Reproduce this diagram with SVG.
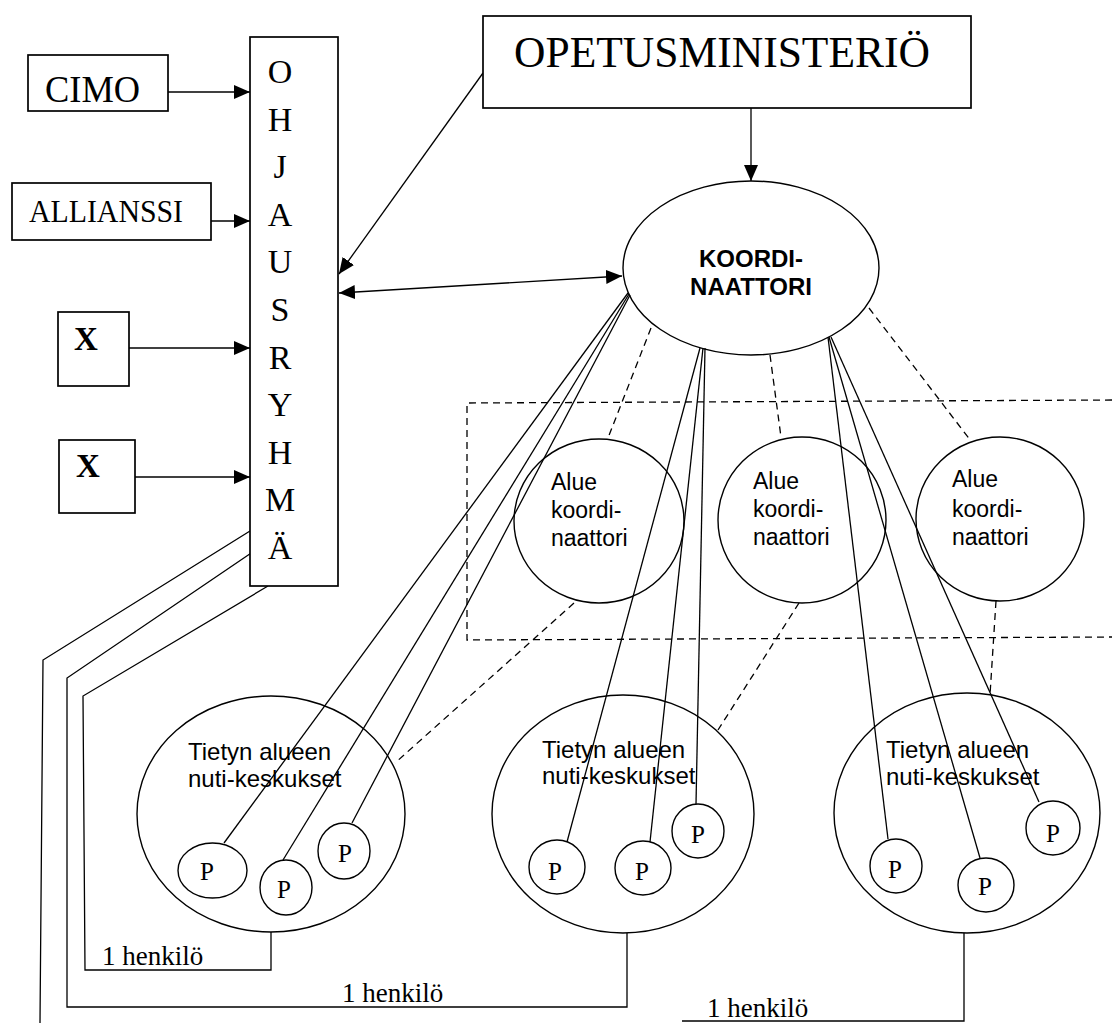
<svg xmlns="http://www.w3.org/2000/svg" width="1112" height="1023" viewBox="0 0 1112 1023">
<style>
.box{fill:#fff;stroke:#000;stroke-width:1.7}
.sh{fill:none;stroke:#000;stroke-width:1.4}
.ln{fill:none;stroke:#000;stroke-width:1.3}
.ds{fill:none;stroke:#000;stroke-width:1.3;stroke-dasharray:7 5}
.serif{font-family:"Liberation Serif","Times New Roman",serif;fill:#000}
.sans{font-family:"Liberation Sans",Arial,sans-serif;fill:#000}
.p{font-family:"Liberation Serif","Times New Roman",serif;font-size:25px;text-anchor:middle}
.al{font-family:"Liberation Sans",Arial,sans-serif;font-size:23px}
.ti{font-family:"Liberation Sans",Arial,sans-serif;font-size:24px}
.hk{font-family:"Liberation Serif","Times New Roman",serif;font-size:27px}
.ohj{font-family:"Liberation Serif","Times New Roman",serif;font-size:34px;text-anchor:middle}
</style>
<defs>
<marker id="arr" markerUnits="userSpaceOnUse" markerWidth="17" markerHeight="14" refX="16" refY="7" orient="auto-start-reverse">
<path d="M0,0 L16,7 L0,14 z" fill="#000"/>
</marker>
</defs>
<rect width="1112" height="1023" fill="#fff"/>

<g id="connectors">
<line class="ln" x1="168" y1="92" x2="250" y2="92" marker-end="url(#arr)"/>
<line class="ln" x1="211" y1="221" x2="250" y2="221" marker-end="url(#arr)"/>
<line class="ln" x1="129" y1="348" x2="250" y2="348" marker-end="url(#arr)"/>
<line class="ln" x1="135" y1="477" x2="250" y2="477" marker-end="url(#arr)"/>
<line class="ln" x1="483" y1="73" x2="339" y2="274" marker-end="url(#arr)"/>
<line class="ln" x1="339" y1="293" x2="622" y2="276" marker-start="url(#arr)" marker-end="url(#arr)"/>
<line class="ln" x1="751" y1="108" x2="751" y2="181" marker-end="url(#arr)"/>
<!-- koordinaattori to P -->
<line class="ln" x1="628" y1="293" x2="224" y2="843"/>
<line class="ln" x1="629" y1="294" x2="283" y2="860"/>
<line class="ln" x1="630" y1="295" x2="352" y2="823"/>
<line class="ln" x1="700" y1="348" x2="567" y2="842"/>
<line class="ln" x1="703" y1="348" x2="650" y2="842"/>
<line class="ln" x1="705" y1="348" x2="696" y2="804"/>
<line class="ln" x1="828" y1="337" x2="888" y2="839"/>
<line class="ln" x1="829" y1="337" x2="980" y2="858"/>
<line class="ln" x1="831" y1="337" x2="1039" y2="802"/>
<!-- dashed -->
<line class="ds" x1="651" y1="328" x2="608" y2="438"/>
<line class="ds" x1="770" y1="355" x2="781" y2="437"/>
<line class="ds" x1="869" y1="308" x2="971" y2="441"/>
<line class="ds" x1="574" y1="603" x2="395" y2="763"/>
<line class="ds" x1="799" y1="603" x2="718" y2="730"/>
<line class="ds" x1="996" y1="601" x2="990" y2="695"/>
<path class="ds" d="M1112,400 L467,403 L467,640 L1112,637"/>
<!-- ohjausryhmä lines -->
<polyline class="ln" points="250,531 43,660 40,1023"/>
<polyline class="ln" points="257,549 67,678 67,1007 627,1007 627,933"/>
<polyline class="ln" points="268,586 83,696 85,970 271,970 271,932"/>
<polyline class="ln" points="682,1021 964,1021 964,933"/>
</g>

<g id="cimo">
<rect class="box" x="28" y="55" width="140" height="56"/>
<text class="serif" x="45" y="102" font-size="38" textLength="95" lengthAdjust="spacingAndGlyphs">CIMO</text>
</g>
<g id="allianssi">
<rect class="box" x="12" y="183" width="199" height="57"/>
<text class="serif" x="29" y="222" font-size="31" textLength="154" lengthAdjust="spacingAndGlyphs">ALLIANSSI</text>
</g>
<g id="x1">
<rect class="box" x="58" y="312" width="71" height="74"/>
<text class="serif" x="86" y="350" font-size="33" font-weight="bold" text-anchor="middle">X</text>
</g>
<g id="x2">
<rect class="box" x="59" y="440" width="76" height="73"/>
<text class="serif" x="88" y="477" font-size="33" font-weight="bold" text-anchor="middle">X</text>
</g>
<g id="ohjausryhma">
<rect class="box" x="250" y="37" width="88" height="549"/>
<text class="ohj" x="280" y="83">O</text>
<text class="ohj" x="280" y="130.6">H</text>
<text class="ohj" x="280" y="178.2">J</text>
<text class="ohj" x="280" y="225.8">A</text>
<text class="ohj" x="280" y="273.4">U</text>
<text class="ohj" x="280" y="321">S</text>
<text class="ohj" x="280" y="368.6">R</text>
<text class="ohj" x="280" y="416.2">Y</text>
<text class="ohj" x="280" y="463.8">H</text>
<text class="ohj" x="280" y="511.4">M</text>
<text class="ohj" x="280" y="559">Ä</text>
</g>
<g id="opetusministerio">
<rect class="box" x="483" y="16" width="488" height="92"/>
<text class="serif" x="514" y="67" font-size="44" textLength="416" lengthAdjust="spacingAndGlyphs">OPETUSMINISTERIÖ</text>
</g>
<g id="koordinaattori">
<ellipse class="sh" cx="751" cy="268" rx="128" ry="87"/>
<text class="sans" x="751" y="267" font-size="24" font-weight="bold" text-anchor="middle">KOORDI-</text>
<text class="sans" x="751" y="295" font-size="24" font-weight="bold" text-anchor="middle">NAATTORI</text>
</g>
<g id="alue1">
<ellipse class="sh" cx="599" cy="521" rx="85" ry="82"/>
<text class="al" x="551" y="490">Alue</text>
<text class="al" x="551" y="518">koordi-</text>
<text class="al" x="551" y="546">naattori</text>
</g>
<g id="alue2">
<ellipse class="sh" cx="802" cy="520" rx="84" ry="83"/>
<text class="al" x="753" y="489">Alue</text>
<text class="al" x="753" y="517">koordi-</text>
<text class="al" x="753" y="545">naattori</text>
</g>
<g id="alue3">
<ellipse class="sh" cx="1000" cy="519" rx="84" ry="82"/>
<text class="al" x="952" y="487">Alue</text>
<text class="al" x="952" y="517">koordi-</text>
<text class="al" x="952" y="545">naattori</text>
</g>
<g id="nuti1">
<ellipse class="sh" cx="271" cy="814" rx="134" ry="118"/>
<text class="ti" x="188" y="760">Tietyn alueen</text>
<text class="ti" x="188" y="787">nuti-keskukset</text>
<ellipse class="sh" cx="212.5" cy="870.5" rx="34.5" ry="27.5"/>
<text class="p" x="207" y="880">P</text>
<ellipse class="sh" cx="286" cy="887.5" rx="26" ry="27.5"/>
<text class="p" x="284" y="898">P</text>
<ellipse class="sh" cx="344" cy="851" rx="26" ry="28"/>
<text class="p" x="345" y="862">P</text>
</g>
<g id="nuti2">
<ellipse class="sh" cx="623" cy="814" rx="131" ry="119"/>
<text class="ti" x="542" y="758">Tietyn alueen</text>
<text class="ti" x="542" y="784">nuti-keskukset</text>
<ellipse class="sh" cx="557" cy="867" rx="28" ry="27"/>
<text class="p" x="555" y="880">P</text>
<ellipse class="sh" cx="643" cy="868" rx="28" ry="27"/>
<text class="p" x="642" y="880">P</text>
<ellipse class="sh" cx="698" cy="831" rx="26" ry="27"/>
<text class="p" x="698" y="843">P</text>
</g>
<g id="nuti3">
<ellipse class="sh" cx="967" cy="813" rx="133" ry="120"/>
<text class="ti" x="886" y="758">Tietyn alueen</text>
<text class="ti" x="886" y="785">nuti-keskukset</text>
<ellipse class="sh" cx="896" cy="866" rx="26" ry="27"/>
<text class="p" x="895" y="878">P</text>
<ellipse class="sh" cx="986" cy="885" rx="28" ry="27"/>
<text class="p" x="985" y="895">P</text>
<ellipse class="sh" cx="1053" cy="828" rx="27" ry="27"/>
<text class="p" x="1053" y="842">P</text>
</g>
<g id="labels">
<text class="hk" x="102" y="965">1 henkilö</text>
<text class="hk" x="342" y="1002">1 henkilö</text>
<text class="hk" x="707" y="1017">1 henkilö</text>
</g>
</svg>
